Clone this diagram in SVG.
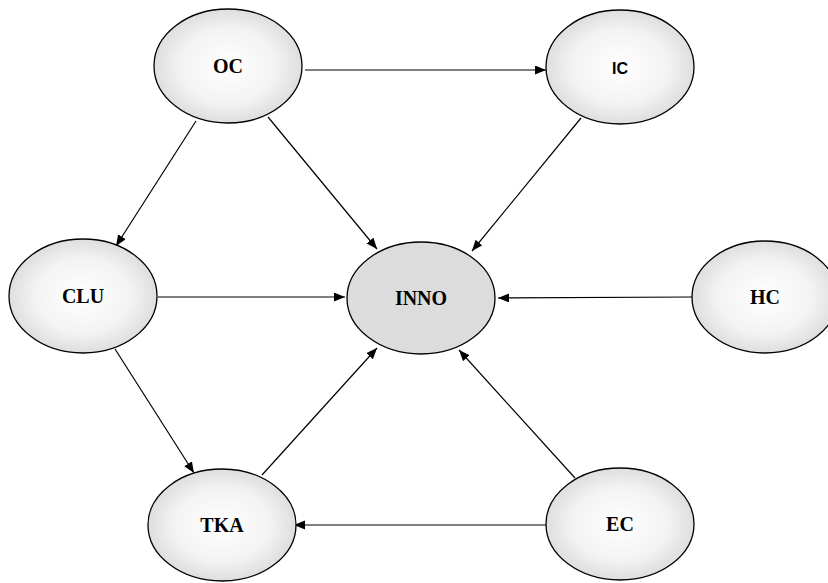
<svg xmlns="http://www.w3.org/2000/svg" width="828" height="583" viewBox="0 0 828 583">
<defs>
<radialGradient id="g" cx="50%" cy="50%" r="50%">
<stop offset="0" stop-color="#ffffff"/>
<stop offset="0.65" stop-color="#f3f3f3"/>
<stop offset="1" stop-color="#dedede"/>
</radialGradient>
<marker id="ah" markerUnits="userSpaceOnUse" markerWidth="12" markerHeight="10" refX="11" refY="4.5" orient="auto">
<path d="M0,0 L11,4.5 L0,9 z" fill="#000"/>
</marker>
<style>
.n{fill:url(#g);stroke:#000;stroke-width:1.3}
.ni{fill:#dcdcdc;stroke:#000;stroke-width:1.3}
.t{font-family:"Liberation Serif","Times New Roman",serif;font-weight:bold;font-size:20px;text-anchor:middle;fill:#000}
.ts{font-family:"Liberation Sans",Arial,sans-serif;font-weight:bold;font-size:16px;text-anchor:middle;fill:#000}
.c line{stroke:#000;stroke-width:1.2;marker-end:url(#ah)}
</style>
</defs>
<rect width="828" height="583" fill="#fff"/>
<g class="c" id="connectors">
<line x1="305" y1="70" x2="546" y2="70"/>
<line x1="196" y1="121" x2="116" y2="246"/>
<line x1="268" y1="117" x2="377" y2="249"/>
<line x1="581" y1="118" x2="472" y2="251"/>
<line x1="158" y1="297" x2="345" y2="297"/>
<line x1="692" y1="297" x2="498" y2="298"/>
<line x1="115" y1="349" x2="194" y2="473"/>
<line x1="262" y1="475" x2="377" y2="348"/>
<line x1="575" y1="478" x2="459" y2="350"/>
<line x1="548" y1="525" x2="294" y2="525"/>
</g>
<g id="OC"><ellipse class="n" cx="228" cy="66" rx="74" ry="57"/><text class="t" x="228" y="73">OC</text></g>
<g id="IC"><ellipse class="n" cx="620" cy="67" rx="74" ry="57"/><text class="ts" x="620" y="74">IC</text></g>
<g id="CLU"><ellipse class="n" cx="83" cy="296" rx="74" ry="57"/><text class="t" x="83" y="303">CLU</text></g>
<g id="INNO"><ellipse class="ni" cx="421" cy="298" rx="74" ry="56"/><text class="t" x="421" y="305">INNO</text></g>
<g id="HC"><ellipse class="n" cx="765" cy="297" rx="73" ry="56"/><text class="t" x="765" y="304">HC</text></g>
<g id="TKA"><ellipse class="n" cx="222" cy="525" rx="74" ry="56"/><text class="t" x="222" y="532">TKA</text></g>
<g id="EC"><ellipse class="n" cx="620" cy="524" rx="74" ry="56"/><text class="t" x="620" y="531">EC</text></g>
</svg>
